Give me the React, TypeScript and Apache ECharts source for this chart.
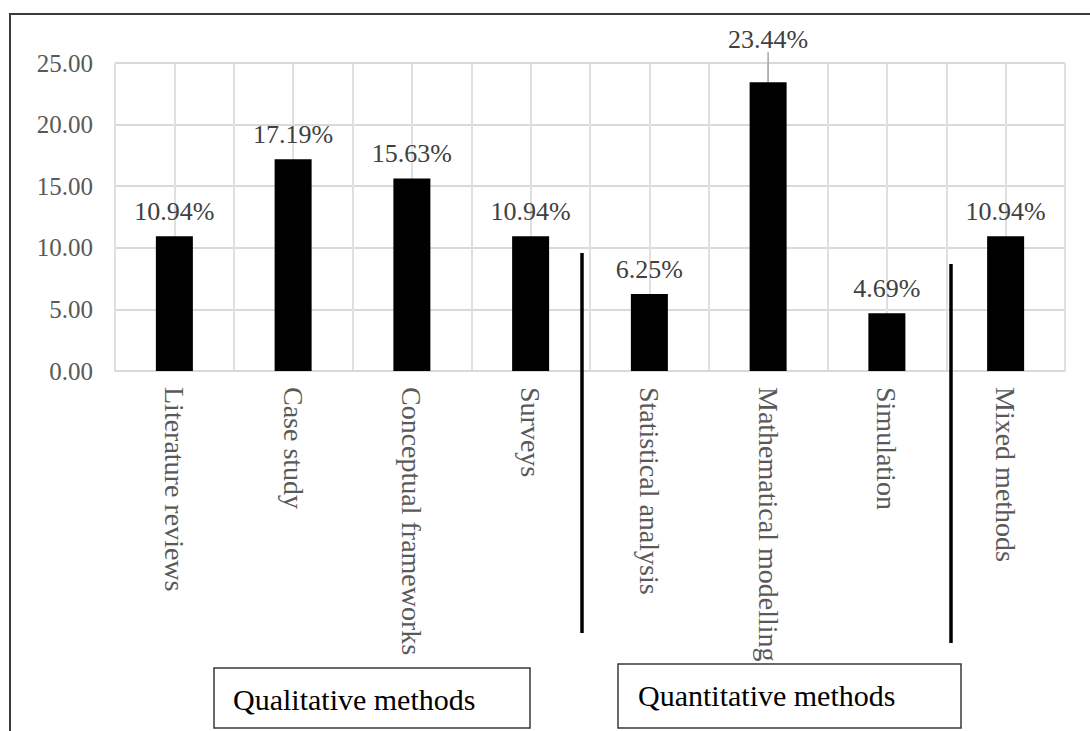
import React, { useEffect, useRef } from "react";
import * as echarts from "echarts";

const categories = [
  "Literature reviews",
  "Case study",
  "Conceptual frameworks",
  "Surveys",
  "Statistical analysis",
  "Mathematical modelling",
  "Simulation",
  "Mixed methods",
];
const shares = [10.94, 17.19, 15.63, 10.94, 6.25, 23.44, 4.69, 10.94];
const yTicks = { min: 0, max: 25, interval: 5 };
const groupLabels = ["Qualitative methods", "Quantitative methods"];

const FONT = "Liberation Serif";

export default function App() {
  const ref = useRef<HTMLDivElement>(null);
  useEffect(() => {
    if (!ref.current) return;
    const chart = echarts.init(ref.current, undefined, { renderer: "svg" });
    const liftIndex = 5;
    chart.setOption({
      animation: false,
      backgroundColor: "#ffffff",
      textStyle: { fontFamily: FONT },
      grid: { left: 115, right: 25, top: 63, bottom: 360 },
      xAxis: [
        {
          type: "category",
          data: categories,
          axisLine: { show: true, lineStyle: { color: "#d9d9d9", width: 2 } },
          axisTick: { show: false },
          splitLine: { show: false },
          axisLabel: {
            rotate: -90,
            margin: 16,
            interval: 0,
            color: "#595959",
            fontFamily: FONT,
            fontSize: 28,
          },
        },
        {
          type: "value",
          min: 0,
          max: categories.length,
          interval: 0.5,
          position: "bottom",
          axisLine: { show: false },
          axisTick: { show: false },
          axisLabel: { show: false },
          splitLine: { show: true, lineStyle: { color: "#e0e0e0", width: 2 } },
        },
      ],
      yAxis: {
        type: "value",
        min: yTicks.min,
        max: yTicks.max,
        interval: yTicks.interval,
        axisLine: { show: false },
        axisTick: { show: false },
        splitLine: { show: true, lineStyle: { color: "#d9d9d9", width: 2 } },
        axisLabel: {
          margin: 22,
          color: "#595959",
          fontFamily: FONT,
          fontSize: 25,
          formatter: (v: number) => v.toFixed(2),
        },
      },
      series: [
        {
          type: "bar",
          xAxisIndex: 0,
          barWidth: 37,
          data: shares.map((v, i) =>
            i === liftIndex
              ? {
                  value: v,
                  labelLine: {
                    show: true,
                    lineStyle: { color: "#a6a6a6", width: 1.5 },
                  },
                }
              : v
          ),
          itemStyle: { color: "#000000" },
          label: {
            show: true,
            position: "top",
            distance: 12,
            color: "#404040",
            fontFamily: FONT,
            fontSize: 26,
            formatter: (p: any) => Number(p.value).toFixed(2) + "%",
          },
          labelLayout: (p: any) =>
            p.dataIndex === liftIndex ? { dy: -18 } : {},
        },
      ],
      graphic: [
        {
          type: "polyline",
          shape: { points: [[10, 740], [10, 14], [1100, 14]] },
          style: { stroke: "#3a3a3a", lineWidth: 2, fill: "none" },
          z: 100,
        },
        {
          type: "line",
          shape: { x1: 582, y1: 253, x2: 582, y2: 633 },
          style: { stroke: "#000", lineWidth: 3.5 },
          z: 100,
        },
        {
          type: "line",
          shape: { x1: 951, y1: 264, x2: 951, y2: 643 },
          style: { stroke: "#000", lineWidth: 3.5 },
          z: 100,
        },
        {
          type: "rect",
          shape: { x: 214, y: 668, width: 316, height: 60 },
          style: { fill: "#fff", stroke: "#3a3a3a", lineWidth: 1.5 },
          z: 100,
        },
        {
          type: "text",
          x: 233,
          y: 699,
          style: {
            text: groupLabels[0],
            fill: "#000",
            fontFamily: FONT,
            fontSize: 30,
            verticalAlign: "middle",
          },
          z: 101,
        },
        {
          type: "rect",
          shape: { x: 618, y: 664, width: 343, height: 64 },
          style: { fill: "#fff", stroke: "#3a3a3a", lineWidth: 1.5 },
          z: 100,
        },
        {
          type: "text",
          x: 638,
          y: 695,
          style: {
            text: groupLabels[1],
            fill: "#000",
            fontFamily: FONT,
            fontSize: 30,
            verticalAlign: "middle",
          },
          z: 101,
        },
      ],
    });
    return () => chart.dispose();
  }, []);
  return (
    <div
      ref={ref}
      style={{ position: "absolute", left: 0, top: 0, width: 1090, height: 731 }}
    />
  );
}
